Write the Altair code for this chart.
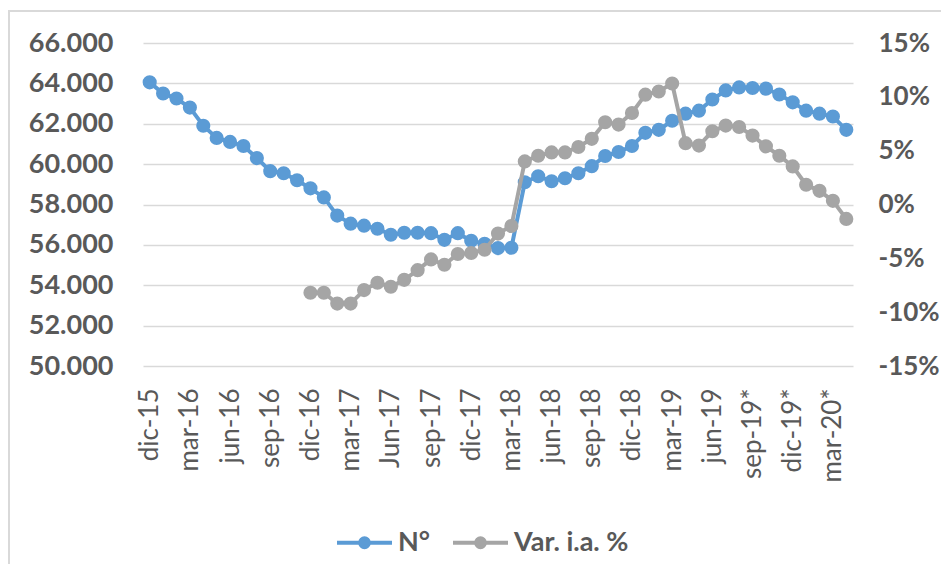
import altair as alt
import pandas as pd

months = ["dic-15", "ene-16", "feb-16", "mar-16", "abr-16", "may-16", "jun-16", "jul-16", "ago-16",
          "sep-16", "oct-16", "nov-16", "dic-16", "ene-17", "feb-17", "mar-17", "abr-17", "may-17",
          "Jun-17", "jul-17", "ago-17", "sep-17", "oct-17", "nov-17", "dic-17", "ene-18", "feb-18",
          "mar-18", "abr-18", "may-18", "jun-18", "jul-18", "ago-18", "sep-18", "oct-18", "nov-18",
          "dic-18", "ene-19", "feb-19", "mar-19", "abr-19", "may-19", "jun-19", "jul-19*", "ago-19*",
          "sep-19*", "oct-19*", "nov-19*", "dic-19*", "ene-20*", "feb-20*", "mar-20*", "abr-20*"]

shown_labels = ["dic-15", "mar-16", "jun-16", "sep-16", "dic-16", "mar-17", "Jun-17", "sep-17",
                "dic-17", "mar-18", "jun-18", "sep-18", "dic-18", "mar-19", "jun-19", "sep-19*",
                "dic-19*", "mar-20*"]

numero = [64050, 63500, 63250, 62800, 61900, 61300, 61100, 60900, 60300, 59650,
          59550, 59200, 58800, 58350, 57450, 57050, 56950, 56800, 56500, 56600,
          56600, 56580, 56250, 56580, 56200, 56050, 55840, 55860, 59100, 59400,
          59150, 59300, 59550, 59900, 60400, 60600, 60900, 61550, 61700, 62150,
          62500, 62650, 63200, 63650, 63800, 63770, 63740, 63450, 63060, 62650,
          62500, 62360, 61700]

var_ia = [None] * 12 + [-8.2, -8.2, -9.2, -9.2, -7.95, -7.27, -7.64, -7.0,
                        -6.1, -5.1, -5.6, -4.6, -4.5, -4.2, -2.7, -2.0, 4.0, 4.53,
                        4.84, 4.84, 5.34, 6.1, 7.64, 7.42, 8.5, 10.2, 10.5, 11.24,
                        5.7, 5.47, 6.8, 7.33, 7.2, 6.4, 5.4, 4.53, 3.54, 1.83,
                        1.27, 0.34, -1.34]

series_names = ["N°", "Var. i.a. %"]
series_colors = ["#5B9BD5", "#A5A5A5"]

df_n = pd.DataFrame({"mes": months, "valor": numero, "serie": series_names[0]})
df_v = pd.DataFrame({"mes": months, "valor": var_ia, "serie": series_names[1]}).dropna()

FONT = "Lato"
TXT = "#595959"
GRID = "#D9D9D9"

x_enc = alt.X("mes:N", sort=months, title=None,
              scale=alt.Scale(type="point", padding=0.5),
              axis=alt.Axis(values=shown_labels, labelAngle=270, labelFont=FONT,
                            labelFontSize=26, labelColor=TXT, labelPadding=22,
                            ticks=False, domain=False, grid=False, labelOverlap=False))

color_enc = alt.Color("serie:N", title=None,
                      scale=alt.Scale(domain=series_names, range=series_colors),
                      legend=alt.Legend(orient="none", legendX=192, legendY=470,
                                        direction="horizontal",
                                        symbolType="M-1,0L1,0M-0.16,0A0.16,0.16,0,1,0,0.16,0A0.16,0.16,0,1,0,-0.16,0Z",
                                        symbolSize=3025, symbolStrokeWidth=4,
                                        labelFont=FONT, labelFontSize=27, labelFontWeight="bold",
                                        labelColor=TXT, labelOffset=4, columnPadding=14))

pt = alt.OverlayMarkDef(filled=True, size=200, opacity=1)

line_n = alt.Chart(df_n).mark_line(strokeWidth=4, point=pt).encode(
    x=x_enc,
    y=alt.Y("valor:Q", title=None,
            scale=alt.Scale(domain=[50000, 66000], nice=False, zero=False),
            axis=alt.Axis(orient="left", values=list(range(50000, 66001, 2000)),
                          labelExpr="replace(format(datum.value, ','), ',', '.')",
                          labelFont=FONT, labelFontSize=27, labelFontWeight="bold",
                          labelColor=TXT, labelPadding=30, ticks=False, domain=False,
                          grid=True, gridColor=GRID, gridWidth=1.5)),
    color=color_enc,
)

line_v = alt.Chart(df_v).mark_line(strokeWidth=4, point=pt).encode(
    x=x_enc,
    y=alt.Y("valor:Q", title=None,
            scale=alt.Scale(domain=[-15, 15], nice=False, zero=False),
            axis=alt.Axis(orient="right", values=[-15, -10, -5, 0, 5, 10, 15],
                          labelExpr="datum.value + '%'",
                          labelFont=FONT, labelFontSize=26, labelFontWeight="bold",
                          labelColor=TXT, labelPadding=25, ticks=False, domain=False,
                          grid=False)),
    color=color_enc,
)

border = alt.Chart(pd.DataFrame({"k": [0]})).mark_rect(
    fillOpacity=0, stroke=GRID, strokeWidth=2
).encode(x=alt.value(-134), x2=alt.value(900), y=alt.value(-32), y2=alt.value(700))

chart = alt.layer(border, line_n, line_v).resolve_scale(
    y="independent"
).properties(
    width=710, height=323,
    autosize=alt.AutoSizeParams(type="none"),
    padding={"left": 135, "top": 35, "right": 88, "bottom": 198},
).configure_view(stroke=None)

chart.save("out.html", embed_options={"renderer": "svg", "actions": False})
